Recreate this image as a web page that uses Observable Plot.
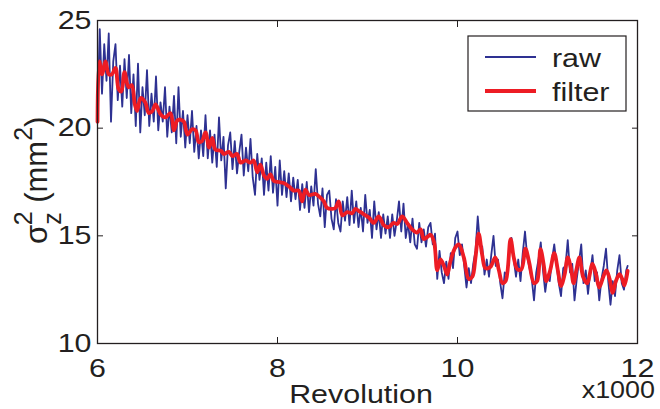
<!DOCTYPE html>
<html><head><meta charset="utf-8">
<script src="https://cdn.jsdelivr.net/npm/d3@7"></script>
<script src="https://cdn.jsdelivr.net/npm/@observablehq/plot@0.6"></script>
<style>
html,body{margin:0;padding:0;background:#fff;}
#chart{width:660px;height:409px;}
</style></head><body><div id="chart"></div>
<script>
// [revolution, sigma_z^2 (mm^2)]
const raw = [
[6000,20.6],[6025,24.6],[6050,21.6],[6075,23.9],[6100,22.2],[6125,24.4],[6150,20.3],[6175,23.1],[6200,23.9],[6225,21.3],
[6250,22.9],[6275,21.0],[6300,23.2],[6325,21.4],[6350,23.4],[6375,20.7],[6400,22.5],[6425,20.1],[6450,23.0],[6475,19.8],
[6500,21.9],[6525,20.6],[6550,22.7],[6575,20.1],[6600,21.6],[6625,20.3],[6650,22.4],[6675,19.9],[6700,21.2],[6725,20.3],
[6750,21.9],[6775,19.6],[6800,21.0],[6825,19.8],[6850,21.5],[6875,19.3],[6900,21.9],[6925,19.6],[6950,20.8],[6975,19.1],
[7000,20.6],[7025,19.3],[7050,20.8],[7075,18.9],[7100,20.1],[7125,18.6],[7150,19.9],[7175,18.7],[7200,20.6],[7225,18.6],
[7250,19.9],[7275,18.4],[7300,19.7],[7325,18.2],[7350,20.5],[7375,18.5],[7400,19.6],[7425,17.2],[7450,19.2],[7475,19.8],
[7500,18.1],[7525,19.4],[7550,17.9],[7575,18.9],[7600,19.7],[7625,17.8],[7650,19.1],[7675,18.0],[7700,19.5],[7725,17.7],
[7750,16.9],[7775,18.8],[7800,17.6],[7825,18.6],[7850,16.9],[7875,18.4],[7900,17.1],[7925,18.7],[7950,17.0],[7975,18.2],
[8000,16.4],[8025,18.5],[8050,16.9],[8075,18.0],[8100,16.8],[8125,17.9],[8150,16.6],[8175,17.7],[8200,16.7],[8225,17.6],
[8250,16.2],[8275,17.4],[8300,16.3],[8325,17.5],[8350,16.1],[8375,17.3],[8400,16.4],[8425,18.1],[8450,16.5],[8475,15.9],
[8500,17.2],[8525,15.4],[8550,16.9],[8575,17.1],[8600,15.8],[8625,15.3],[8650,16.7],[8675,15.6],[8700,15.2],[8725,16.6],
[8750,15.7],[8775,16.8],[8800,15.5],[8825,17.1],[8850,15.6],[8875,16.6],[8900,15.4],[8925,16.3],[8950,15.2],[8975,16.9],
[9000,15.6],[9025,16.2],[9050,14.9],[9075,16.6],[9100,15.3],[9125,16.1],[9150,14.9],[9175,16.0],[9200,15.1],[9225,15.9],
[9250,14.9],[9275,16.0],[9300,15.0],[9325,15.7],[9350,16.6],[9375,15.2],[9400,16.5],[9425,14.9],[9450,15.6],[9475,14.7],
[9500,15.8],[9525,14.6],[9550,14.4],[9575,15.6],[9600,14.7],[9625,15.3],[9650,14.5],[9675,15.4],[9700,15.6],[9725,14.6],
[9750,15.1],[9775,13.0],[9800,14.3],[9825,13.3],[9850,12.8],[9875,13.8],[9900,13.0],[9925,14.2],[9950,13.5],[9975,14.9],
[10000,15.2],[10025,14.1],[10050,14.6],[10075,13.6],[10100,12.6],[10125,13.5],[10150,12.8],[10175,13.7],[10200,14.3],[10225,15.9],
[10250,14.6],[10275,14.5],[10300,13.2],[10325,13.9],[10350,13.1],[10375,14.1],[10400,15.0],[10425,13.6],[10450,13.9],[10475,12.8],
[10500,12.1],[10525,13.3],[10550,13.2],[10575,14.4],[10600,14.9],[10625,13.9],[10650,13.1],[10675,13.9],[10700,12.9],[10725,14.2],
[10750,15.2],[10775,14.0],[10800,13.5],[10825,13.0],[10850,12.0],[10875,13.3],[10900,13.9],[10925,14.7],[10950,13.4],[10975,12.4],
[11000,13.2],[11025,12.9],[11050,13.9],[11075,14.6],[11100,13.7],[11125,12.8],[11150,12.2],[11175,13.5],[11200,13.6],[11225,14.8],
[11250,13.3],[11275,13.7],[11300,12.0],[11325,13.0],[11350,13.8],[11375,14.6],[11400,12.8],[11425,13.4],[11450,12.3],[11475,13.3],
[11500,14.1],[11525,12.9],[11550,13.3],[11575,12.0],[11600,13.0],[11625,13.6],[11650,14.4],[11675,12.9],[11700,11.8],[11725,12.9],
[11750,12.2],[11775,13.4],[11800,14.1],[11825,12.8],[11850,12.5],[11875,13.4],[11890,13.6]
];
const filter = [
[6000,20.3],[6020,23.1],[6050,22.5],[6090,23.1],[6125,22.5],[6160,22.5],[6200,22.8],[6235,21.8],[6265,21.7],[6300,22.6],
[6345,21.9],[6380,22.0],[6415,21.1],[6440,20.8],[6480,21.4],[6530,21.2],[6570,20.7],[6610,20.8],[6645,21.1],[6700,20.65],
[6755,20.5],[6810,20.7],[6850,19.9],[6885,20.35],[6920,20.4],[6960,20.3],[7000,19.7],[7050,19.95],[7090,19.9],[7125,19.35],
[7160,19.4],[7200,19.8],[7240,19.1],[7275,19.55],[7310,19.0],[7370,18.95],[7405,18.8],[7460,18.9],[7500,18.7],[7550,18.8],
[7590,18.4],[7645,18.5],[7700,18.4],[7735,18.5],[7775,17.95],[7810,18.3],[7850,17.8],[7885,17.65],[7920,17.85],[7960,17.55],
[8015,17.5],[8070,17.45],[8125,17.3],[8180,17.1],[8235,17.1],[8275,16.6],[8310,17.15],[8350,16.9],[8420,16.95],[8470,16.8],
[8515,16.6],[8550,16.3],[8610,16.25],[8645,16.3],[8680,16.6],[8720,15.95],[8775,16.1],[8830,16.05],[8865,16.25],[8905,16.15],
[8960,16.0],[9015,15.85],[9070,15.6],[9125,15.9],[9180,15.5],[9235,15.4],[9290,15.6],[9330,15.55],[9385,15.9],[9440,15.6],
[9495,15.3],[9550,15.15],[9590,15.3],[9625,14.85],[9680,15.0],[9700,15.05],[9740,14.7],[9775,13.4],[9810,13.9],[9850,13.6],
[9885,13.2],[9920,13.8],[9975,14.45],[10015,14.6],[10070,14.0],[10125,13.0],[10165,13.1],[10200,14.0],[10235,15.1],[10275,14.1],
[10310,13.5],[10365,13.55],[10420,14.0],[10460,13.4],[10500,12.8],[10535,12.9],[10590,14.85],[10625,14.0],[10665,13.45],[10710,13.45],
[10755,14.4],[10795,13.8],[10850,12.8],[10885,12.9],[10922,14.38],[10960,13.6],[10985,12.9],[11030,13.4],[11075,14.2],[11115,13.4],
[11150,12.67],[11190,13.2],[11225,14.0],[11260,13.5],[11290,12.8],[11320,13.4],[11355,14.0],[11395,13.1],[11440,12.8],[11500,13.7],
[11540,13.2],[11575,12.6],[11620,13.1],[11655,13.4],[11690,13.0],[11725,12.35],[11760,12.9],[11800,13.22],[11830,13.0],[11855,12.7],
[11890,13.37]
];
const xTicks = [6000, 8000, 10000, 12000];
const yTicks = [10, 15, 20, 25];
const seriesNames = ["raw", "filter"];
const seriesColors = ["#2e3192", "#ed1c24"];
const xLabel = "Revolution";
const xMultiplier = "x1000";

const FONT = "'Liberation Sans', Arial, Helvetica, sans-serif";
const FS = 26;
const STRETCH = 1.17;
const INK = "#231f20";

const chart = Plot.plot({
  width: 660, height: 409,
  marginLeft: 97, marginRight: 23, marginTop: 20, marginBottom: 66,
  style: {fontFamily: FONT, fontSize: FS + "px", background: "#fff", color: INK},
  x: {domain: [6000, 12000]},
  y: {domain: [10, 25]},
  marks: [
    Plot.line(raw, {x: d => d[0], y: d => d[1], stroke: seriesColors[0], strokeWidth: 1.8}),
    Plot.line(filter, {x: d => d[0], y: d => d[1], stroke: seriesColors[1], strokeWidth: 3.8, curve: "catmull-rom"}),
    Plot.frame({stroke: INK, strokeWidth: 1.3}),
    Plot.axisX({ticks: xTicks, anchor: "bottom", tickSize: -6, tickPadding: 21, tickFormat: d => d / 1000, fontSize: FS, label: null}),
    Plot.axisX({ticks: xTicks, anchor: "top", tickSize: -6, tickFormat: () => "", label: null}),
    Plot.axisY({ticks: yTicks, anchor: "left", tickSize: -6, tickPadding: 12, fontSize: FS, label: null}),
    Plot.axisY({ticks: yTicks, anchor: "right", tickSize: -6, tickFormat: () => "", label: null})
  ]
});
document.getElementById("chart").appendChild(chart);

const svg = d3.select(chart);
svg.selectAll("text").filter(function() { return this.textContent.trim() === ""; }).remove();
const sx = chart.scale("x"), sy = chart.scale("y");
const [fx0, fx1] = sx.range;
const [fyB, fyT] = sy.range;
const stretchList = [];
svg.selectAll('g[aria-label$="tick label"] text').each(function() { stretchList.push(this); });

// x label and multiplier
const g = svg.append("g").attr("font-family", FONT).attr("fill", INK).attr("font-size", FS);
stretchList.push(g.append("text").attr("x", (fx0 + fx1) / 2 - 6).attr("y", fyB + 60).attr("text-anchor", "middle").text(xLabel).node());
stretchList.push(g.append("text").attr("x", fx1 + 18).attr("y", fyB + 55).attr("text-anchor", "end").attr("font-size", 23).text(xMultiplier).node());

// y label: sigma_z^2 (mm^2)
const yl = g.append("text")
  .attr("text-anchor", "start")
  .attr("transform", `translate(47,${fyB - 99}) rotate(-90)`)
  .attr("font-size", 31);
yl.append("tspan").text("σ");
yl.append("tspan").attr("font-size", 25).attr("dy", 14).text("z");
yl.append("tspan").attr("font-size", 25).attr("dx", -13).attr("dy", -29).text("2");
yl.append("tspan").attr("dy", 15).text(" (mm");
yl.append("tspan").attr("font-size", 25).attr("dy", -15).text("2");
yl.append("tspan").attr("dy", 15).text(")");

// legend
const lg = svg.append("g").attr("transform", `translate(${fx1 - 169},${fyT + 16})`)
  .attr("font-family", FONT).attr("font-size", FS).attr("fill", INK).attr("text-anchor", "start");
lg.append("rect").attr("width", 158).attr("height", 75).attr("fill", "#fff").attr("stroke", INK).attr("stroke-width", 1.2);
seriesNames.forEach((name, i) => {
  const yy = 21 + i * 34;
  lg.append("line").attr("x1", 17).attr("x2", 68).attr("y1", yy).attr("y2", yy)
    .attr("stroke", seriesColors[i]).attr("stroke-width", i === 0 ? 2.2 : 3.8);
  stretchList.push(lg.append("text").attr("x", 84).attr("y", yy + 10).text(name).node());
});

stretchList.forEach(el => {
  const len = el.getComputedTextLength();
  if (len > 0) {
    el.setAttribute("textLength", (len * STRETCH).toFixed(1));
    el.setAttribute("lengthAdjust", "spacingAndGlyphs");
  }
});
</script></body></html>
